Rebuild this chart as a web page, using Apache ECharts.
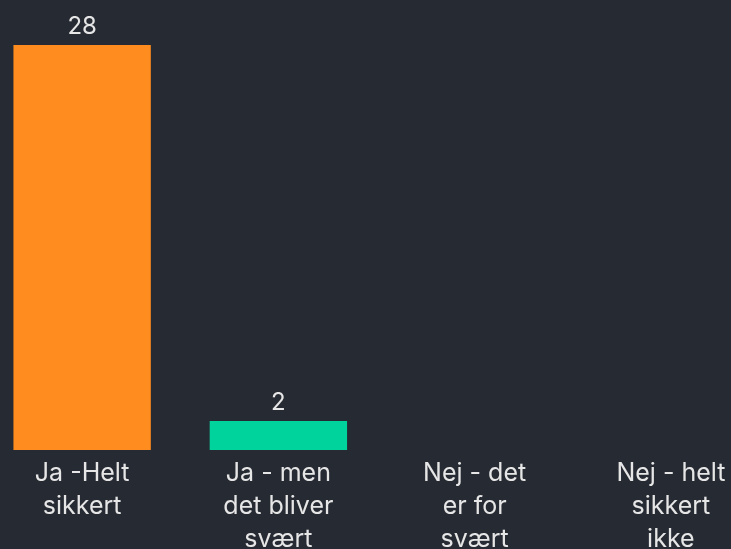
<!DOCTYPE html>
<html>
<head>
<meta charset="utf-8">
<script src="https://cdn.jsdelivr.net/npm/echarts@6/dist/echarts.min.js"></script>
<style>
  html, body { margin: 0; padding: 0; background: #262a33; }
  #chart { width: 731px; height: 549px; }
</style>
</head>
<body>
<div id="chart"></div>
<script>
  const categories = [
    'Ja -Helt\nsikkert',
    'Ja - men\ndet bliver\nsvært',
    'Nej - det\ner for\nsvært',
    'Nej - helt\nsikkert\nikke'
  ];
  const values = [28, 2, 0, 0];
  const barColors = ['#ff8c1e', '#00d39b', '#8a7cf0', '#ff5a5a'];

  document.addEventListener('DOMContentLoaded', function () {
    const myChart = echarts.init(document.getElementById('chart'));

    const option = {
      backgroundColor: '#262a33',
      grid: {
        left: -16,
        right: -38,
        top: 45,
        bottom: 99,
        containLabel: false,
        outerBoundsMode: 'none'
      },
      xAxis: {
        type: 'category',
        data: categories,
        axisLine: { show: false },
        axisTick: { show: false },
        axisLabel: {
          interval: 0,
          color: '#e6e6e6',
          fontFamily: 'Inter',
          fontSize: 25,
          lineHeight: 33,
          margin: 7
        }
      },
      yAxis: {
        type: 'value',
        min: 0,
        max: 28,
        show: false
      },
      series: [
        {
          type: 'bar',
          barWidth: '70%',
          data: values.map((v, i) => ({
            value: v,
            itemStyle: { color: barColors[i] }
          })),
          label: {
            show: true,
            position: 'top',
            distance: 6,
            color: '#e6e6e6',
            fontFamily: 'Inter',
            fontSize: 24,
            formatter: p => (p.value > 0 ? p.value : '')
          }
        }
      ]
    };

    myChart.setOption(option);
    window.addEventListener('resize', () => { myChart.resize(); });
  });
</script>
</body>
</html>
